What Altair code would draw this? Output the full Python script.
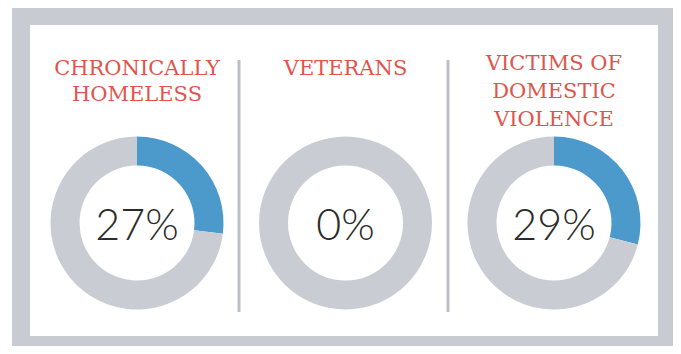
import math
import altair as alt
import pandas as pd

# ---- data ----
groups = ["Chronically homeless", "Veterans", "Victims of domestic violence"]
title_lines = [["CHRONICALLY", "HOMELESS"], ["VETERANS"], ["VICTIMS OF", "DOMESTIC", "VIOLENCE"]]
percents = [27, 0, 29]

# ---- styling ----
BLUE = "#4b9acb"
RING_GRAY = "#c9cdd3"
FRAME_GRAY = "#c8ccd2"
RED = "#e0544c"
TEXT = "#2b2b2b"
DIVIDER = "#bcc0c6"

W, H = 665, 338
CY = 215
R_OUT, R_IN = 86.5, 57.5
title_y = [67, 67, 62]
title_lh = [26, 26, 28]

rows = []
for g, p in zip(groups, percents):
    rows.append({"group": g, "part": "share", "start": 0, "end": p})
    rows.append({"group": g, "part": "rest", "start": p, "end": 100})
df = pd.DataFrame(rows)
labels = pd.DataFrame({"group": groups, "pct": percents})

line_rows = []
for g, lines in zip(groups, title_lines):
    for i, t in enumerate(lines):
        line_rows.append({"group": g, "line": i, "text": t})
tdf = pd.DataFrame(line_rows)

xscale = alt.Scale(type="point", domain=groups, range=[129, 546], padding=0)
X = alt.X("group:N", scale=xscale, axis=None)

one = alt.Data(values=[{"k": 1}])

frame = alt.Chart(one).mark_rect(color=FRAME_GRAY).encode(
    x=alt.value(4), x2=alt.value(W), y=alt.value(0), y2=alt.value(H)
)
panel = alt.Chart(one).mark_rect(color="white").encode(
    x=alt.value(22), x2=alt.value(650), y=alt.value(17), y2=alt.value(328)
)
div1 = alt.Chart(one).mark_rule(color=DIVIDER, strokeWidth=3).encode(
    x=alt.value(231), y=alt.value(52), y2=alt.value(304)
)
div2 = alt.Chart(one).mark_rule(color=DIVIDER, strokeWidth=3).encode(
    x=alt.value(440), y=alt.value(52), y2=alt.value(304)
)

arcs = alt.Chart(df).mark_arc(innerRadius=R_IN, outerRadius=R_OUT).encode(
    x=X,
    y=alt.value(CY),
    theta=alt.Theta("start:Q", scale=alt.Scale(domain=[0, 100], range=[0, 2 * math.pi]), stack=None),
    theta2=alt.Theta2("end:Q"),
    color=alt.Color("part:N", scale=alt.Scale(domain=["share", "rest"], range=[BLUE, RING_GRAY]), legend=None),
)

pct_text = alt.Chart(labels).transform_calculate(
    label="datum.pct + '%'"
).mark_text(font="Lato", fontWeight=300, fontSize=43, color=TEXT, baseline="alphabetic", align="center").encode(
    x=X, y=alt.value(CY + 17), text="label:N"
)

title_layers = []
for gi, g in enumerate(groups):
    for li in range(len(title_lines[gi])):
        title_layers.append(
            alt.Chart(tdf).transform_filter(
                (alt.datum.group == g) & (alt.datum.line == li)
            ).mark_text(
                font="'DejaVu Serif', 'Liberation Serif', serif", fontSize=21, color=RED,
                baseline="alphabetic", align="center"
            ).encode(x=X, y=alt.value(title_y[gi] + li * title_lh[gi]), text="text:N")
        )

chart = alt.layer(frame, panel, div1, div2, arcs, pct_text, *title_layers).properties(
    width=W, height=H,
    autosize=alt.AutoSizeParams(type="fit", contains="padding"),
    padding=0, background="white",
).configure_view(strokeWidth=0)

chart.save("out.html", embed_options={"renderer": "svg", "actions": False})
